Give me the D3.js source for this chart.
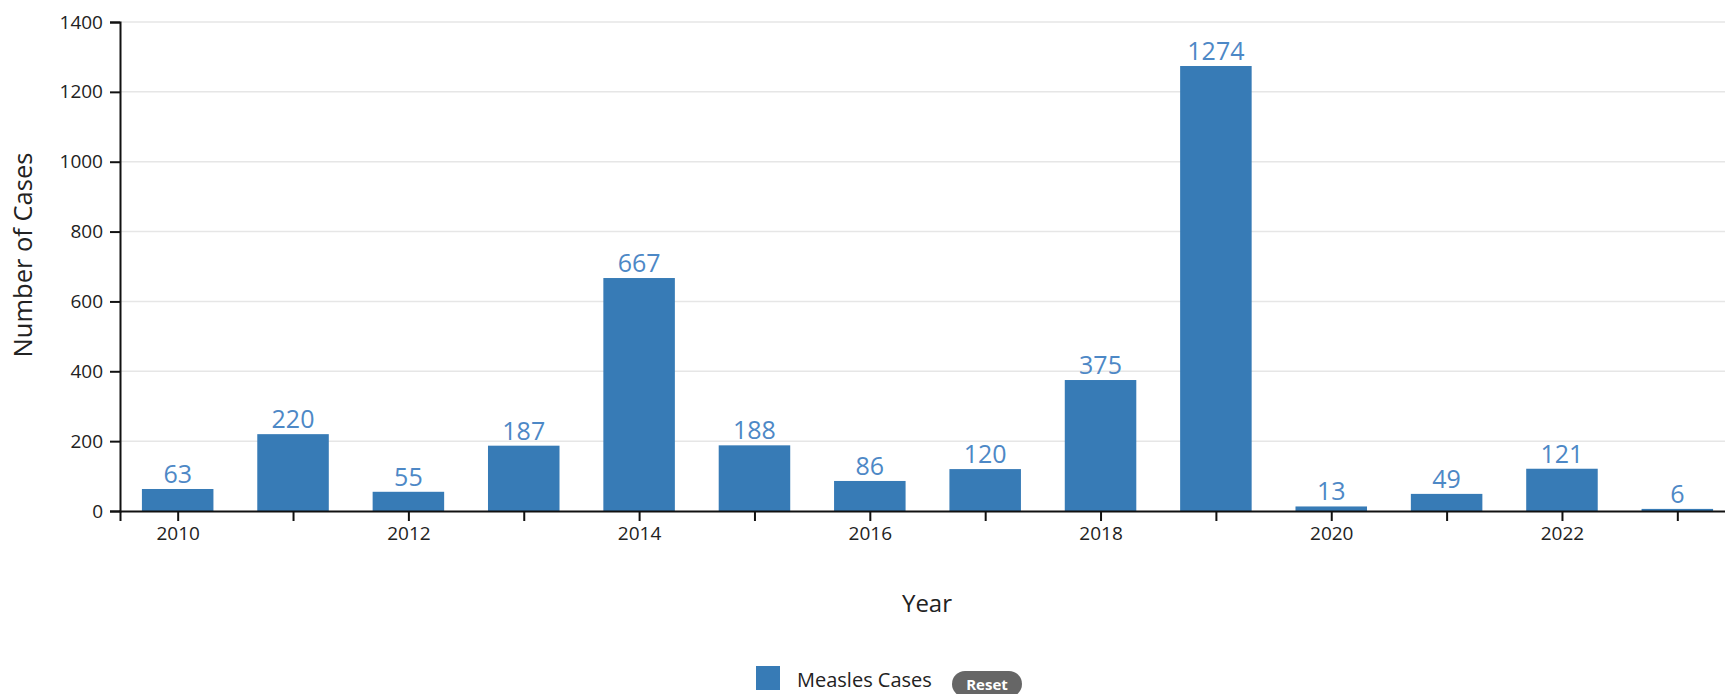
<!DOCTYPE html>
<html>
<head>
<meta charset="utf-8">
<script src="https://cdn.jsdelivr.net/npm/d3@7"></script>
<style>
  body { margin: 0; background: #fff; overflow: hidden; }
  svg { font-family: "Segoe UI", "Open Sans", sans-serif; }
</style>
</head>
<body>
<script>
// data
const years = [2010, 2011, 2012, 2013, 2014, 2015, 2016, 2017, 2018, 2019, 2020, 2021, 2022, 2023];
const cases = [63, 220, 55, 187, 667, 188, 86, 120, 375, 1274, 13, 49, 121, 6];
const yTicks = [0, 200, 400, 600, 800, 1000, 1200, 1400];
const seriesName = "Measles Cases";

const w = 1725, h = 694;
const svg = d3.select("body").append("svg")
  .attr("width", w)
  .attr("height", h);

const plotLeft = 120, plotBottom = 511, plotTop = 22;

var x = d3.scaleLinear()
  .domain([years[0] - 0.5, years[years.length - 1] + 0.5])
  .range([plotLeft, 1735]);
var y = d3.scaleLinear()
  .domain([0, 1400])
  .range([plotBottom, plotTop]);

const step = x(years[1]) - x(years[0]);
const barW = step * 0.62;

// grid
svg.append("g").selectAll("line").data(yTicks.slice(1))
  .join("line")
  .attr("x1", plotLeft).attr("x2", w)
  .attr("y1", d => y(d)).attr("y2", d => y(d))
  .style("stroke", "#e6e6e6")
  .style("stroke-width", 1.5);

// bars
svg.append("g").selectAll("rect").data(years)
  .join("rect")
  .attr("x", (d) => x(d) - barW / 2)
  .attr("y", (d, i) => y(cases[i]))
  .attr("width", barW)
  .attr("height", (d, i) => plotBottom - y(cases[i]))
  .style("fill", "#377bb6");

// value labels
svg.append("g").selectAll("text").data(years)
  .join("text")
  .attr("x", d => x(d))
  .attr("y", (d, i) => y(cases[i]) - 6)
  .attr("text-anchor", "middle")
  .style("font-size", "25px")
  .style("fill", "#4d88c6")
  .text((d, i) => cases[i]);

// axes
var xAxis = d3.axisBottom(x)
  .tickValues(years)
  .tickSize(10)
  .tickSizeOuter(10)
  .tickPadding(6)
  .tickFormat(d => d % 2 === 0 ? d : "");
var gx = svg.append("g").attr("transform", `translate(0,${plotBottom})`).call(xAxis);

var yAxis = d3.axisLeft(y)
  .tickValues(yTicks)
  .tickSize(10)
  .tickSizeOuter(10)
  .tickPadding(7)
  .tickFormat(d3.format("d"));
var gy = svg.append("g").attr("transform", `translate(${plotLeft},0)`).call(yAxis);

[gx, gy].forEach(g => {
  g.selectAll("path, line").style("stroke", "#111").style("stroke-width", 2);
  g.selectAll("text")
    .style("font-family", '"Segoe UI", "Open Sans", sans-serif')
    .style("font-size", "19px")
    .style("fill", "#222");
});

// axis titles
svg.append("text")
  .attr("x", 927).attr("y", 612)
  .attr("text-anchor", "middle")
  .style("font-size", "24px")
  .style("fill", "#222")
  .text("Year");

svg.append("text")
  .attr("transform", "translate(32,255) rotate(-90)")
  .attr("text-anchor", "middle")
  .style("font-size", "25.5px")
  .style("fill", "#222")
  .text("Number of Cases");

// legend
var legend = svg.append("g").attr("transform", "translate(756,666)");
legend.append("rect")
  .attr("width", 24).attr("height", 24)
  .style("fill", "#377bb6");
legend.append("text")
  .attr("x", 41).attr("y", 21)
  .style("font-size", "20px")
  .style("fill", "#222")
  .text(seriesName);
legend.append("rect")
  .attr("x", 196).attr("y", 5)
  .attr("width", 70).attr("height", 26)
  .attr("rx", 13)
  .style("fill", "#666");
legend.append("text")
  .attr("x", 231).attr("y", 24)
  .attr("text-anchor", "middle")
  .style("font-size", "15px")
  .style("font-weight", "bold")
  .style("fill", "#fff")
  .text("Reset");
</script>
</body>
</html>
